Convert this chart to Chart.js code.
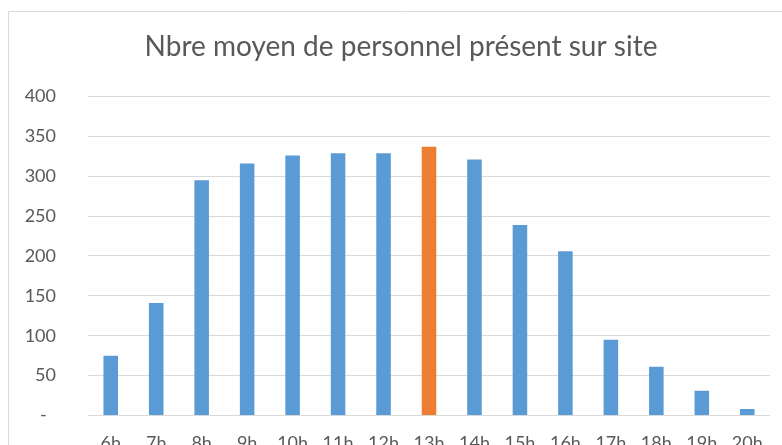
<!DOCTYPE html>
<html>
<head>
<meta charset="utf-8">
<script src="https://cdn.jsdelivr.net/npm/chart.js@4/dist/chart.umd.min.js"></script>
<style>
  html, body { margin: 0; padding: 0; background: #ffffff; overflow: hidden; }
  #wrap { width: 782px; height: 445px; overflow: hidden; }
  canvas { display: block; }
</style>
</head>
<body>
<div id="wrap"><canvas id="c" width="802" height="471"></canvas></div>
<script>
// ---- data ----
const chartTitle = "Nbre moyen de personnel présent sur site";
const hours = ["6h","7h","8h","9h","10h","11h","12h","13h","14h","15h","16h","17h","18h","19h","20h"];
const staffPresent = [75, 141, 295, 316, 326, 329, 329, 337, 321, 239, 206, 95, 61, 31, 8];
const yTicks = [0, 50, 100, 150, 200, 250, 300, 350, 400];
const peakHour = "13h";

// ---- styles ----
const BLUE = "#5B9BD5";
const ORANGE = "#ED7D31";
const GRID = "#d9d9d9";
const TEXT = "#595959";
const FONT = "Lato, 'Open Sans', sans-serif";

const frame = {
  id: "frame",
  beforeDraw(chart) {
    const ctx = chart.ctx;
    ctx.save();
    ctx.fillStyle = "#ffffff";
    ctx.fillRect(0, 0, chart.width, chart.height);
    ctx.strokeStyle = GRID;
    ctx.lineWidth = 1;
    ctx.beginPath();
    ctx.moveTo(8.5, chart.height + 5);
    ctx.lineTo(8.5, 11.5);
    ctx.lineTo(chart.width + 5, 11.5);
    ctx.stroke();
    ctx.restore();
  }
};

new Chart(document.getElementById("c"), {
  type: "bar",
  data: {
    labels: hours,
    datasets: [{
      data: staffPresent,
      backgroundColor: (c) => hours[c.dataIndex] === peakHour ? ORANGE : BLUE,
      borderWidth: 0,
      barPercentage: 0.32,
      categoryPercentage: 1.0
    }]
  },
  options: {
    responsive: false,
    animation: false,
    devicePixelRatio: 1,
    layout: { padding: { left: 0, right: 0, top: 0, bottom: 0 } },
    plugins: {
      legend: { display: false },
      tooltip: { enabled: false },
      title: {
        display: true,
        text: chartTitle,
        color: TEXT,
        font: { family: FONT, size: 28, weight: "normal" },
        padding: { top: 30, bottom: 33 }
      }
    },
    scales: {
      x: {
        grid: { display: false, drawTicks: false },
        border: { display: false },
        ticks: {
          color: TEXT,
          font: { family: FONT, size: 18 },
          padding: 17,
          maxRotation: 0,
          autoSkip: false
        }
      },
      y: {
        min: 0,
        max: 400,
        afterFit: (s) => { s.width = 88; },
        afterBuildTicks: (s) => { s.ticks = yTicks.map(v => ({ value: v })); },
        grid: { color: GRID, lineWidth: 1, drawTicks: false },
        border: { display: false },
        ticks: {
          color: TEXT,
          font: { family: FONT, size: 18 },
          padding: 32,
          callback: (v) => v === 0 ? "-  " : String(v)
        }
      },
      yRight: {
        position: "right",
        min: 0,
        max: 400,
        afterFit: (s) => { s.width = 32; },
        grid: { display: false, drawTicks: false },
        border: { display: false },
        ticks: { display: false }
      }
    }
  },
  plugins: [frame]
});
</script>
</body>
</html>
